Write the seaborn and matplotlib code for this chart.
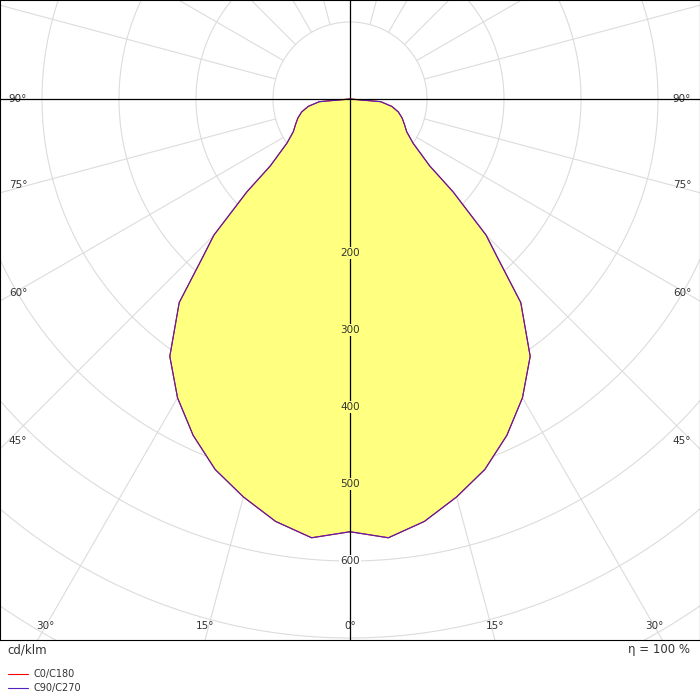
import numpy as np
import pandas as pd
import matplotlib.pyplot as plt
import seaborn as sns

# luminous intensity (cd/klm) vs angle from nadir, symmetric
gamma = [0, 5, 10, 15, 20, 25, 30, 35, 40, 43, 45, 48, 50, 55, 60, 65, 70, 75, 80, 85, 90]
intensity = [562, 572, 557, 535, 512, 482, 448, 408, 345, 280, 250, 180, 135, 100, 85, 78, 72, 65, 55, 40, 0]
ring_labels = [200, 300, 400, 500, 600]
angle_labels = [90, 75, 60, 45, 30, 15, 0]

sns.set_theme(style="white")
plt.rcParams['font.family'] = ['DejaVu Sans']

fig = plt.figure(figsize=(7, 7), dpi=100)
ax = fig.add_axes([0, 60 / 700, 1, 640 / 700])
scale = 0.77  # px per cd/klm
xmax = 350 / scale
ytop = 99 / scale
ybot = -541 / scale
ax.set_xlim(-xmax, xmax)
ax.set_ylim(ybot, ytop)
ax.set_aspect('auto')
ax.set_xticks([])
ax.set_yticks([])
for s in ax.spines.values():
    s.set_color('black')
    s.set_linewidth(0.8)

# grid circles
t = np.linspace(0, 2 * np.pi, 400)
for r in range(100, 1300, 100):
    ax.plot(r * np.cos(t), r * np.sin(t), color='#dcdcdc', lw=0.8, zorder=1)
# radial lines
for a in range(0, 360, 15):
    if a % 90 == 0:
        continue
    ar = np.radians(a)
    ax.plot([100 * np.sin(ar), 1500 * np.sin(ar)], [-100 * np.cos(ar), -1500 * np.cos(ar)],
            color='#dcdcdc', lw=0.8, zorder=1)

# curve
g = np.array(gamma + [-x for x in gamma[::-1]])
r = np.array(intensity + intensity[::-1])
df = pd.DataFrame({'x': r * np.sin(np.radians(g)), 'y': -r * np.cos(np.radians(g))})
ax.fill(df['x'], df['y'], color='#ffff80', zorder=2)
sns.lineplot(data=df, x='x', y='y', sort=False, estimator=None, color='red', lw=0.8, ax=ax, zorder=3)
sns.lineplot(data=df, x='x', y='y', sort=False, estimator=None, color='#5020c0', lw=0.8, ax=ax, zorder=4)
ax.set_xlabel('')
ax.set_ylabel('')

ax.axvline(0, color='black', lw=0.9, zorder=5)
ax.axhline(0, color='black', lw=0.9, zorder=5)

for v in ring_labels:
    ax.text(0, -v, str(v), ha='center', va='center', fontsize=7.5, color='#333333', zorder=6,
            bbox=dict(facecolor='#ffff80' if v < 560 else 'white', edgecolor='none', pad=0.5))

for a in angle_labels:
    if a == 90:
        y = 0
    else:
        y = -xmax / np.tan(np.radians(a))
    if a != 90 and y < ybot:
        x = -ybot * np.tan(np.radians(a))
        if a == 30:
            x -= 8 / scale
        for sx in ([-1, 1] if a else [1]):
            ax.text(sx * x, ybot + 14 / scale, f'{a}°', ha='center', va='center', fontsize=7.5, color='#333333')
    else:
        y += 8 / scale if a != 90 else 0
        ax.text(-xmax + 18 / scale, y, f'{a}°', ha='center', va='center', fontsize=7.5, color='#333333')
        ax.text(xmax - 18 / scale, y, f'{a}°', ha='center', va='center', fontsize=7.5, color='#333333')

fig.text(7 / 700, 1 - 650 / 700, 'cd/klm', fontsize=8.5, va='center', color='#333333')
fig.text(690 / 700, 1 - 650 / 700, 'η = 100 %', fontsize=8.5, va='center', ha='right', color='#333333')
fig.lines.append(plt.Line2D([8 / 700, 28 / 700], [1 - 674 / 700] * 2, color='red', lw=0.8, transform=fig.transFigure))
fig.lines.append(plt.Line2D([8 / 700, 28 / 700], [1 - 688 / 700] * 2, color='#5020c0', lw=0.8, transform=fig.transFigure))
fig.text(34 / 700, 1 - 674 / 700, 'C0/C180', fontsize=7, va='center', color='#333333')
fig.text(34 / 700, 1 - 688 / 700, 'C90/C270', fontsize=7, va='center', color='#333333')

fig.savefig('out.png', dpi=100)
